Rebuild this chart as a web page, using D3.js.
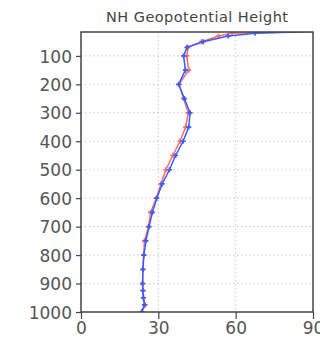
<!DOCTYPE html>
<html>
<head>
<meta charset="utf-8">
<script src="https://cdn.jsdelivr.net/npm/d3@7"></script>
<style>
  html, body { margin: 0; padding: 0; background: #fff; }
  svg { display: block; }
</style>
</head>
<body>
<div id="chart"></div>
<script>
// pressure levels (hPa)
const levels = [1000, 975, 950, 925, 900, 850, 800, 750, 700, 650, 600, 550, 500,
  450, 400, 350, 300, 250, 200, 150, 100, 70, 50, 30, 20, 10];
const blueSeries = [23.5, 24.6, 24.2, 24.0, 23.9, 24.0, 24.4, 25.2, 26.4, 27.7, 29.4, 31.5, 34.3,
  36.7, 39.6, 41.8, 42.3, 40.1, 37.9, 40.5, 39.8, 41.1, 47.4, 57.1, 67.5, 107];
const redSeries = [23.6, 24.9, 24.2, 24.0, 23.9, 24.0, 24.3, 24.6, 26.2, 27.0, 29.2, 31.0, 32.9,
  35.6, 38.4, 40.6, 41.6, 39.8, 38.0, 41.8, 41.0, 41.5, 46.8, 53.3, 58.6, 110];
const yTicks = [100, 200, 300, 400, 500, 600, 700, 800, 900, 1000];
const xTicks = [0, 30, 60, 90];
const title = 'NH Geopotential Height';

const width = 320, height = 342;
const box = { left: 81, right: 313, top: 32, bottom: 312 };

const svg = d3.select('#chart')
  .append('svg')
  .attr('width', width)
  .attr('height', height);

const x = d3.scaleLinear().domain([0, 90]).range([box.left, box.right]);
const y = d3.scaleLinear().domain([1000, 16]).range([box.bottom, box.top]);

// clip for data lines
svg.append('clipPath')
  .attr('id', 'clip')
  .append('rect')
  .attr('x', box.left).attr('y', box.top)
  .attr('width', box.right - box.left).attr('height', box.bottom - box.top);

// grid
const grid = svg.append('g')
  .style('stroke', '#c8c8c8')
  .style('stroke-width', 1)
  .style('stroke-dasharray', '1.5,2.5');

grid.selectAll('.hgrid')
  .data(yTicks.filter(d => d !== 1000))
  .enter()
  .append('line')
  .attr('x1', box.left).attr('x2', box.right)
  .attr('y1', d => y(d)).attr('y2', d => y(d));

grid.selectAll('.vgrid')
  .data(xTicks.filter(d => d !== 0 && d !== 90))
  .enter()
  .append('line')
  .attr('x1', d => x(d)).attr('x2', d => x(d))
  .attr('y1', box.top).attr('y2', box.bottom);

// data
const line = d3.line()
  .x(d => x(d[1]))
  .y(d => y(d[0]));

const plot = svg.append('g').attr('clip-path', 'url(#clip)');

function drawSeries(values, color) {
  const pts = levels.map((p, i) => [p, values[i]]);
  plot.append('path')
    .datum(pts)
    .attr('d', line)
    .style('fill', 'none')
    .style('stroke', color)
    .style('stroke-width', 1.5);

  plot.selectAll(null)
    .data(pts)
    .enter()
    .append('path')
    .attr('transform', d => `translate(${x(d[1])},${y(d[0])})`)
    .attr('d', d3.symbol().type(d3.symbolCross).size(14))
    .style('fill', color);
}

drawSeries(redSeries, '#ff6b6b');
drawSeries(blueSeries, '#3a5cff');

// axes
const yAxis = d3.axisLeft(y)
  .tickValues(yTicks)
  .tickFormat(d3.format('d'))
  .tickSize(5)
  .tickSizeOuter(0)
  .tickPadding(4);

const xAxis = d3.axisBottom(x)
  .tickValues(xTicks)
  .tickFormat(d3.format('d'))
  .tickSize(7)
  .tickSizeOuter(0)
  .tickPadding(3);

const gy = svg.append('g')
  .attr('transform', `translate(${box.left},0)`)
  .call(yAxis);

const gx = svg.append('g')
  .attr('transform', `translate(0,${box.bottom})`)
  .call(xAxis);

[gy, gx].forEach(g => {
  g.select('.domain').remove();
  g.selectAll('line').style('stroke', '#444').style('stroke-width', 1.2);
  g.selectAll('text')
    .style('font-family', 'DejaVu Sans, sans-serif')
    .style('font-size', '17px')
    .style('fill', '#555');
});
gy.selectAll('text').attr('dy', '0.36em');

// frame
svg.append('rect')
  .attr('x', box.left).attr('y', box.top)
  .attr('width', box.right - box.left).attr('height', box.bottom - box.top)
  .style('fill', 'none')
  .style('stroke', '#444')
  .style('stroke-width', 1.5);

// title
svg.append('text')
  .attr('x', (box.left + box.right) / 2)
  .attr('y', 22)
  .attr('text-anchor', 'middle')
  .attr('textLength', 182)
  .style('font-family', 'DejaVu Sans, sans-serif')
  .style('font-size', '14.5px')
  .style('fill', '#444')
  .text(title);
</script>
</body>
</html>
